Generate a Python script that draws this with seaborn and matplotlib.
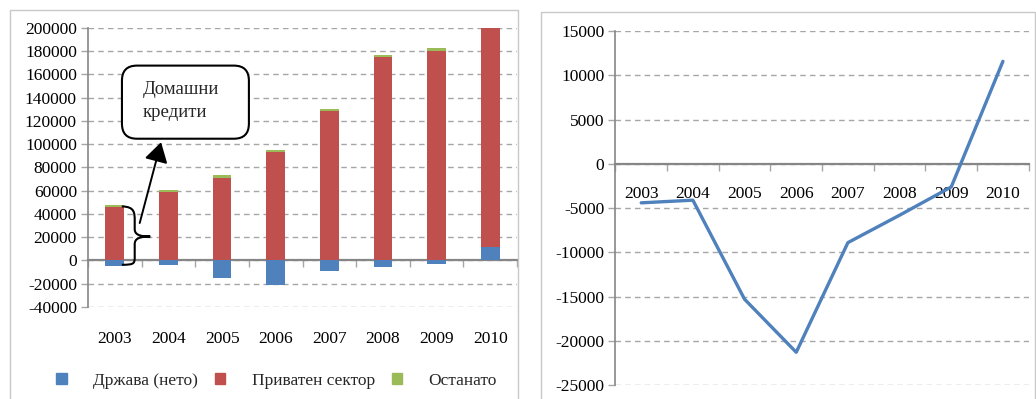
import numpy as np
import pandas as pd
import matplotlib
matplotlib.use("Agg")
import matplotlib.pyplot as plt
from matplotlib.patches import Rectangle, FancyBboxPatch, PathPatch
from matplotlib.path import Path
import seaborn as sns

# data
years = ['2003', '2004', '2005', '2006', '2007', '2008', '2009', '2010']
drzava = [-4400, -4100, -15300, -21300, -8900, -5800, -2600, 11600]
privaten = [45800, 58500, 71200, 93000, 128800, 174700, 180500, 190000]
ostanato = [1800, 1800, 2000, 1800, 1900, 1800, 1900, 1500]
labels = ['Држава (нето)', 'Приватен сектор', 'Останато']

c_blue, c_red, c_green = '#4F81BD', '#C0504D', '#9BBB59'
grid_c = '#A6A6A6'
axis_c = '#868686'

sns.set_theme(style='white')
plt.rcParams['font.family'] = ['Liberation Serif', 'DejaVu Serif']
plt.rcParams['axes.unicode_minus'] = False

df = pd.DataFrame({'year': years, 'drzava': drzava, 'privaten': privaten, 'ostanato': ostanato})
pos = df.drzava.clip(lower=0)
df['red_top'] = pos + df.privaten
df['green_top'] = df.red_top + df.ostanato

fig = plt.figure(figsize=(10.36, 3.99), dpi=100)

# panel frames
fig.patches.append(Rectangle((0.0097, -0.01), 0.4903, 0.985, transform=fig.transFigure,
                             fill=False, ec='#C8C8C8', lw=1))
fig.patches.append(Rectangle((0.522, -0.01), 0.477, 0.98, transform=fig.transFigure,
                             fill=False, ec='#C8C8C8', lw=1))

ax1 = fig.add_axes([0.085, 0.2306, 0.414, 0.6994])
ax2 = fig.add_axes([0.594, 0.0351, 0.399, 0.8865])

# ---- left: stacked bars (drawn as overlapping cumulative heights)
bar_kw = dict(width=0.35, saturation=1, linewidth=0, ax=ax1, zorder=3)
sns.barplot(data=df, x='year', y='green_top', color=c_green, **bar_kw)
sns.barplot(data=df, x='year', y='red_top', color=c_red, **bar_kw)
sns.barplot(data=df, x='year', y='drzava', color=c_blue, **bar_kw)

ax1.set_ylim(-40000, 200000)
ax1.set_yticks(np.arange(-40000, 200001, 20000))
ax1.set_xlim(-0.5, 7.5)

# ---- right: line
sns.lineplot(x=np.arange(len(years)), y=drzava, color=c_blue, lw=2.4, ax=ax2, zorder=3)
ax2.set_ylim(-25000, 15000)
ax2.set_yticks(np.arange(-25000, 15001, 5000))
ax2.set_xlim(-0.5, 7.5)

for ax, pad in [(ax1, 51), (ax2, 16)]:
    ax.set_xticks(range(len(years)))
    ax.set_xticklabels(years)
    ax.set_xticks(np.arange(-0.5, 8, 1), minor=True)
    ax.set_xlabel('')
    ax.set_ylabel('')
    ax.spines['bottom'].set_position(('data', 0))
    ax.spines['bottom'].set_color(axis_c)
    ax.spines['bottom'].set_linewidth(1.6)
    ax.spines['left'].set_color(axis_c)
    ax.spines['left'].set_linewidth(1.2)
    ax.spines['top'].set_visible(False)
    ax.spines['right'].set_visible(False)
    ax.tick_params(axis='x', which='major', length=0, pad=pad, labelsize=12.5, colors='black')
    ax.tick_params(axis='x', which='minor', length=5, width=1, color=grid_c, direction='out', bottom=True)
    ax.tick_params(axis='y', length=5, width=1, color=grid_c, direction='out', left=True,
                   pad=3, labelsize=12.5, colors='black')
    ax.yaxis.grid(True, ls=(0, (4, 3)), color=grid_c, lw=1)
    ax.set_axisbelow(True)
    ax.patch.set_alpha(0)

# annotation box
box = FancyBboxPatch((0.079, 0.603), 0.296, 0.262, transform=ax1.transAxes,
                     boxstyle='round,pad=0,rounding_size=0.035', mutation_aspect=1.54,
                     fc='white', ec='black', lw=1.5, zorder=5)
ax1.add_patch(box)
ax1.text(0.128, 0.81, 'Домашни\nкредити', transform=ax1.transAxes, ha='left', va='top',
         fontsize=13.5, linespacing=1.5, zorder=6)

# arrow
ax1.annotate('', xy=(0.875, 104000), xytext=(0.45, 29900),
             arrowprops=dict(arrowstyle='-|>,head_length=0.5,head_width=0.3', color='black',
                             lw=1.4, mutation_scale=24), zorder=6)

# brace
verts = [(0.13, 46500), (0.37, 46300), (0.37, 41000), (0.37, 34000),
         (0.37, 27000),
         (0.37, 22500), (0.45, 20600), (0.66, 20600),
         (0.45, 20600), (0.37, 18700), (0.37, 14000),
         (0.37, 3500),
         (0.37, -2500), (0.37, -3700), (0.13, -3700)]
codes = [Path.MOVETO, Path.CURVE4, Path.CURVE4, Path.CURVE4,
         Path.LINETO,
         Path.CURVE4, Path.CURVE4, Path.CURVE4,
         Path.CURVE4, Path.CURVE4, Path.CURVE4,
         Path.LINETO,
         Path.CURVE4, Path.CURVE4, Path.CURVE4]
ax1.add_patch(PathPatch(Path(verts, codes), fill=False, ec='black', lw=1.5, zorder=6))

# legend
handles = [Rectangle((0, 0), 1, 1, color=c) for c in (c_blue, c_red, c_green)]
fig.legend(handles, labels, loc='center', bbox_to_anchor=(0.267, 0.045), ncol=3, frameon=False,
           fontsize=12.5, handlelength=0.6, handleheight=0.6, handletextpad=1.5,
           columnspacing=1.0)

fig.savefig('out.png', dpi=100)
